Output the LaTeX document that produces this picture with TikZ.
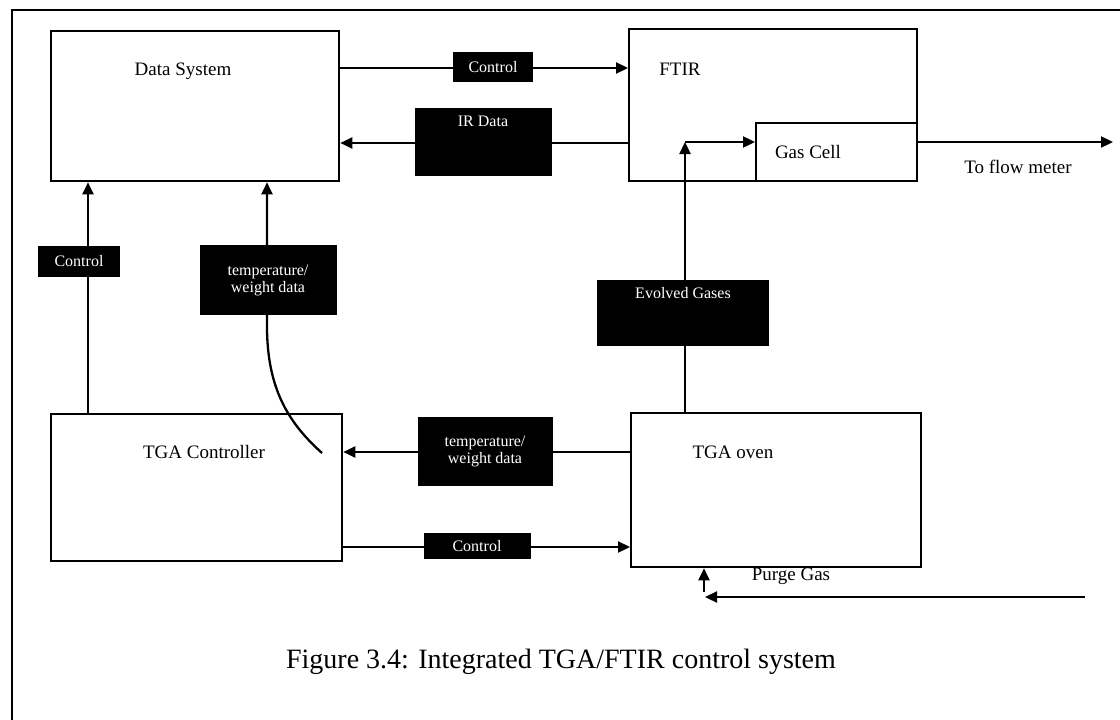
\documentclass[tikz,border=0pt]{standalone}
\usepackage{fontspec}
\setmainfont{Liberation Serif}
\usetikzlibrary{arrows.meta}
\begin{document}
\begin{tikzpicture}[x=1pt,y=-1pt,line width=2.3pt,
  box/.style={draw,line width=2.3pt,inner sep=0pt},
  lab/.style={fill=black,text=white,font=\fontsize{16}{17}\selectfont,inner sep=0pt,align=center},
  arr/.style={-{Triangle[length=12pt,width=11pt]}},
  txt/.style={font=\fontsize{19}{22}\selectfont,inner sep=0pt},
  captxt/.style={font=\fontsize{28}{30}\selectfont,inner sep=0pt}]
\useasboundingbox (0,0) rectangle (1120,720);
% frame
\coordinate (fr1) at (1120,10);
\coordinate (fr2) at (12,10);
\coordinate (fr3) at (12,720);
\draw (fr1) -- (fr2) -- (fr3);
% boxes
\node[box,minimum width=288pt,minimum height=150pt,anchor=north west] (ds) at (50,30) {};
\node[box,minimum width=288pt,minimum height=152pt,anchor=north west] (ftir) at (628,28) {};
\node[box,minimum width=161pt,minimum height=58pt,anchor=north west] (gc) at (755,122) {};
\node[box,minimum width=291pt,minimum height=147pt,anchor=north west] (tc) at (50,413) {};
\node[box,minimum width=290pt,minimum height=154pt,anchor=north west] (ov) at (630,412) {};
% box texts
\node[txt] (tds) at (183,71) {Data System};
\node[txt] (tftir) at (680,69) {FTIR};
\node[txt] (tgc) at (808,152) {Gas Cell};
\node[txt] (ttc) at (204,452) {TGA Controller};
\node[txt] (tov) at (733,452) {TGA oven};
\node[txt] (tflow) at (1018,167) {To flow meter};
\node[txt] (tpurge) at (791,576) {Purge Gas};
\node[captxt] (caption) at (561,662) {Figure 3.4: Integrated TGA/FTIR control system};
% helper coordinates
\coordinate (xa) at (88,0);
\coordinate (xb) at (267,0);
\coordinate (xc) at (685,0);
\coordinate (xd) at (704,0);
\coordinate (ya) at (0,68);
\coordinate (yb) at (0,143);
\coordinate (yc) at (0,452);
\coordinate (yd) at (0,547);
\coordinate (yf) at (0,142);
\coordinate (flowend) at (1113,142);
\coordinate (purgestart) at (1085,597);
\coordinate (purgeend) at (705,597);
\coordinate (purgelow) at (704,592);
\coordinate (bend) at (685,142);
\coordinate (curvestart) at (322,453);
\coordinate (curvemid) at (267,330);
% connectors
\draw[arr] (ds.east |- ya) -- (ftir.west |- ya);
\draw[arr] (ftir.west |- yb) -- (ds.east |- yb);
\draw[arr] (xa |- tc.north) -- (xa |- ds.south);
\draw[arr] (curvestart) .. controls (285,420) and (268,385) .. (curvemid) -- (xb |- ds.south);
\draw[arr] (ov.west |- yc) -- (tc.east |- yc);
\draw[arr] (tc.east |- yd) -- (ov.west |- yd);
\draw[arr] (xc |- ov.north) -- (bend);
\draw[arr] (bend) -- (gc.west |- yf);
\draw[arr] (gc.east |- yf) -- (flowend);
\draw[arr] (purgelow) -- (xd |- ov.south);
\draw[arr] (purgestart) -- (purgeend);
% labels
\node[lab,minimum width=80pt,minimum height=30pt] (l1) at (493,67) {Control};
\node[lab,minimum width=137pt,minimum height=68pt] (l2) at (483,142) {IR Data\\[24pt]};
\node[lab,minimum width=82pt,minimum height=31pt] (l3) at (79,261) {Control};
\node[lab,minimum width=137pt,minimum height=70pt] (l4) at (268,280) {temperature/\\weight data};
\node[lab,minimum width=135pt,minimum height=69pt] (l5) at (485,451) {temperature/\\weight data};
\node[lab,minimum width=107pt,minimum height=26pt] (l6) at (477,546) {Control};
\node[lab,minimum width=172pt,minimum height=66pt] (l7) at (683,313) {Evolved Gases\\[24pt]};
\end{tikzpicture}
\end{document}
